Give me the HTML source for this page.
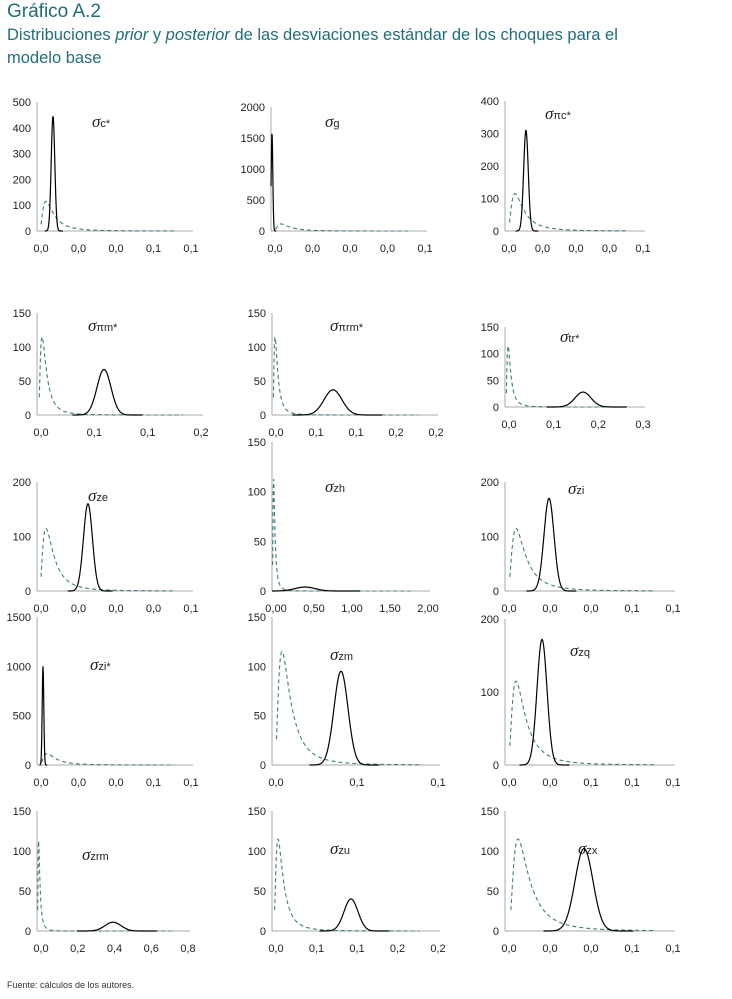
<!DOCTYPE html>
<html><head><meta charset="utf-8"><style>
body{margin:0;background:#fff;width:732px;height:999px;overflow:hidden;font-family:"Liberation Sans",sans-serif}
.t1{position:absolute;left:7px;top:1px;font-size:19px;color:#1f6e78}
.t2{position:absolute;left:7px;top:24px;font-size:16.5px;color:#1f6e78;line-height:23px;width:665px}
.f{position:absolute;left:7px;top:980px;font-size:9px;color:#333}
svg{position:absolute;left:0;top:0}
</style></head><body>
<div class="t1">Gráfico A.2</div>
<div class="t2">Distribuciones <i>prior</i> y <i>posterior</i> de las desviaciones estándar de los choques para el modelo base</div>
<div class="f">Fuente: cálculos de los autores.</div>
<svg id="s" width="732" height="999" xmlns="http://www.w3.org/2000/svg"></svg>
<script>
const P=[
[37,193,102,231,500,100,["0,0","0,0","0,0","0,1","0,1"],"c*",92,127,53,445,1.8,46,1],
[271,427,107,231,2000,500,["0,0","0,0","0,0","0,0","0,1"],"g",325,127,272,1580,0.8,281,1],
[505,645,101,231,400,100,["0,0","0,0","0,0","0,0","0,1"],"πc*",545,119,526,310,2.3,515,1],
[37,203,313,415,150,50,["0,0","0,1","0,1","0,2"],"πm*",88,331,104,67,7,42,0.45],
[272,438,313,415,150,50,["0,0","0,1","0,1","0,2","0,2"],"πrm*",330,331,333,37,9,275,0.45],
[505,645,327,407,150,50,["0,0","0,1","0,2","0,3"],"tr*",560,342,583,28,8,508,0.4],
[37,193,482,591,200,100,["0,0","0,0","0,0","0,0","0,1"],"ze",88,501,88,160,4.5,46,1],
[272,430,442,591,150,50,["0,00","0,50","1,00","1,50","2,00"],"zh",325,492,305,4,10,273,0.3],
[505,675,482,591,200,100,["0,0","0,0","0,0","0,1","0,1"],"zi",568,494,549,170,5,516,1],
[37,193,617,765,1500,500,["0,0","0,0","0,0","0,1","0,1"],"zi*",90,670,43,1000,0.8,47,1],
[272,440,617,765,150,50,["0,0","0,1","0,1"],"zm",330,660,341,95,7,282,1],
[505,675,619,765,200,100,["0,0","0,0","0,1","0,1","0,1"],"zq",570,656,542,172,5,516,1],
[37,190,811,931,150,50,["0,0","0,2","0,4","0,6","0,8"],"zrm",82,860,113,11,8,38,0.3],
[272,440,811,931,150,50,["0,0","0,1","0,1","0,2","0,2"],"zu",330,854,351,40,7,278,0.45],
[505,675,811,931,150,50,["0,0","0,0","0,0","0,1","0,1"],"zx",578,854,584,103,9,518,1]];
let h='';
for(const p of P){
 const [x0,x1,top,bot,ym,st,xl,lab,lx,ly,pk,ph,sd,pp,sc]=p;
 const Y=v=>bot-(v/ym)*(bot-top);
 h+=`<line x1="${x0}" y1="${top}" x2="${x0}" y2="${bot}" stroke="#aaa"/><line x1="${x0}" y1="${bot}" x2="${x1}" y2="${bot}" stroke="#aaa"/>`;
 for(let v=0;v<=ym;v+=st)h+=`<text x="${x0-6}" y="${Y(v)+4}" font-size="11" text-anchor="end" fill="#222">${v}</text>`;
 xl.forEach((t,i)=>{const x=x0+4+(x1-x0-6)*i/(xl.length-1);h+=`<text x="${x}" y="${bot+21}" font-size="11" text-anchor="middle" fill="#222">${t}</text>`});
 h+=`<text x="${lx}" y="${ly}" fill="#222"><tspan font-family="Liberation Serif,serif" font-style="italic" font-size="17">σ</tspan><tspan font-size="11">${lab}</tspan></text>`;
 const pd=Math.max(pp-x0,1.5), a=3.5;
 let d='';const xs=x0+pd*0.45;
 for(let x=xs;x<=x0+(x1-x0)*0.88;x+=0.5){const t=(x-x0)/pd;let g=Math.pow(1/t,a)*Math.exp(a*(1-1/t));const v=115*g;d+=(d?'L':'M')+x.toFixed(1)+','+Y(v).toFixed(1);}
 h+=`<path d="${d}" fill="none" stroke="#3f7f80" stroke-width="1.1" stroke-dasharray="4,3"/>`;
 d='';
 for(let x=Math.max(x0,pk-sd*4.5);x<=Math.min(x1,pk+sd*5.5);x+=0.3){const z=(x-pk)/sd;const v=ph*Math.exp(-z*z/2);d+=(d?'L':'M')+x.toFixed(1)+','+Y(v).toFixed(1);}
 h+=`<path d="${d}" fill="none" stroke="#000" stroke-width="1.2"/>`;
}
document.getElementById('s').innerHTML=h;
</script>
</body></html>
